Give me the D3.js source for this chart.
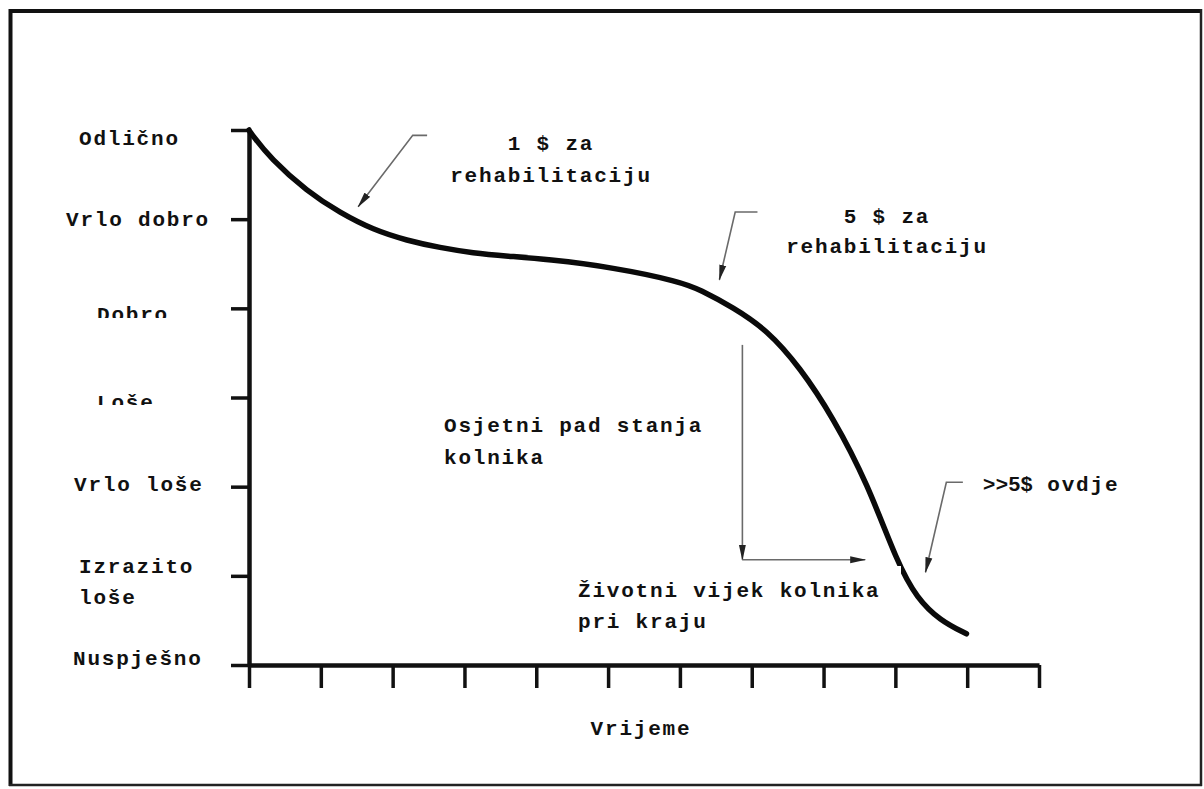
<!DOCTYPE html>
<html>
<head>
<meta charset="utf-8">
<script src="https://cdn.jsdelivr.net/npm/d3@7"></script>
<style>
  html, body { margin: 0; padding: 0; background: #fff; }
  svg { display: block; }
  text { font-family: "Liberation Mono", "DejaVu Sans Mono", monospace; font-weight: bold; font-size: 21px; letter-spacing: 1.8px; fill: #111; }
</style>
</head>
<body>
<svg id="chart" width="1204" height="789"></svg>
<script>
// ---- data ----
const conditionLabels = ["Nuspješno", "Izrazito\nloše", "Vrlo loše", "Loše", "Dobro", "Vrlo dobro", "Odlično"];
const conditionLevels = [0, 1, 2, 3, 4, 5, 6];
const timeTicks = [0, 1, 2, 3, 4, 5, 6, 7, 8, 9, 10, 11];
const curveTime = [0, 0.03, 0.30, 0.81, 1.27, 1.73, 2.20, 2.66, 3.12, 3.60, 4.15, 5.07, 6.00, 6.28, 6.74, 7.21, 7.67, 8.13, 8.61, 9.03, 9.30, 9.62, 9.99];
const curveCondition = [6.0, 5.96, 5.68, 5.31, 5.07, 4.88, 4.76, 4.68, 4.62, 4.585, 4.55, 4.46, 4.30, 4.21, 4.01, 3.76, 3.34, 2.78, 2.04, 1.14, 0.75, 0.50, 0.35];
const xAxisTitle = "Vrijeme";
// annotation arrows in data units (time, condition)
const arrow1 = [[2.48, 5.94], [2.28, 5.94], [1.52, 5.14]];
const arrow2 = [[7.08, 5.08], [6.77, 5.08], [6.55, 4.32]];
const arrow3 = [[9.94, 2.05], [9.71, 2.05], [9.42, 1.04]];
const dropArrow = [[6.87, 3.59], [6.87, 1.18]];
const lifeArrow = [[6.87, 1.18], [8.58, 1.18]];

// ---- layout ----
const svg = d3.select("#chart");
const x = d3.scaleLinear().domain([0, 11]).range([249, 1039]);
const y = d3.scaleLinear().domain([0, 6]).range([665, 130]);

// frame
svg.append("line").attr("x1", 10.5).attr("x2", 10.5).attr("y1", 9).attr("y2", 786).attr("stroke", "#111").attr("stroke-width", 4);
svg.append("line").attr("x1", 9).attr("x2", 1202).attr("y1", 11).attr("y2", 11).attr("stroke", "#111").attr("stroke-width", 4);
svg.append("line").attr("x1", 1201).attr("x2", 1201).attr("y1", 9).attr("y2", 786).attr("stroke", "#222").attr("stroke-width", 2.5);
svg.append("line").attr("x1", 9).attr("x2", 1202).attr("y1", 785).attr("y2", 785).attr("stroke", "#222").attr("stroke-width", 2.5);

// arrow marker
const defs = svg.append("defs");
defs.append("marker").attr("id", "ah").attr("viewBox", "0 -4 16 8")
  .attr("refX", 15).attr("refY", 0).attr("markerWidth", 16).attr("markerHeight", 8)
  .attr("markerUnits", "userSpaceOnUse").attr("orient", "auto")
  .append("path").attr("d", "M0,-3.5L16,0L0,3.5Z").attr("fill", "#222");

// axes
const yAxis = d3.axisLeft(y).tickValues(conditionLevels).tickSize(18).tickSizeOuter(0).tickFormat("");
const gy = svg.append("g").attr("transform", "translate(249,0)").call(yAxis);
const xAxis = d3.axisBottom(x).tickValues(timeTicks).tickSize(23).tickSizeOuter(0).tickFormat("");
const gx = svg.append("g").attr("transform", "translate(0,665)").call(xAxis);
[gx, gy].forEach(g => {
  g.select(".domain").attr("stroke", "#111").attr("stroke-width", 4.5);
  g.selectAll(".tick line").attr("stroke", "#111").attr("stroke-width", 3.5);
});

// condition curve
const line = d3.line().x(d => x(d[0])).y(d => y(d[1])).curve(d3.curveBasis);
svg.append("path").datum(curveTime.map((t, i) => [t, curveCondition[i]]))
  .attr("d", line).attr("fill", "none").attr("stroke", "#0a0a0a").attr("stroke-width", 5.5).attr("stroke-linecap", "round");

// annotation arrows
const straight = d3.line().x(d => x(d[0])).y(d => y(d[1]));
[arrow1, arrow2, arrow3, dropArrow, lifeArrow].forEach(a => {
  svg.append("path").attr("d", straight(a)).attr("fill", "none")
    .attr("stroke", "#6a6a6a").attr("stroke-width", 1.6).attr("marker-end", "url(#ah)");
});

// white label box that hides part of the curve
svg.append("rect").attr("x", 570).attr("y", 566).attr("width", 331).attr("height", 74).attr("fill", "#fff");

// y labels
const labelLayout = [
  { x: 73, base: 665 }, { x: 79, base: 573 }, { x: 74, base: 491 }, { x: 97, base: 409 },
  { x: 97, base: 321 }, { x: 66, base: 226 }, { x: 79, base: 145 }
];
conditionLabels.forEach((lab, i) => {
  const lines = lab.split("\n");
  const t = svg.append("text").attr("x", labelLayout[i].x).attr("y", labelLayout[i].base);
  lines.forEach((ln, k) => {
    t.append("tspan").attr("x", labelLayout[i].x).attr("dy", k === 0 ? 0 : 31).text(ln);
  });
});
// clipped label bottoms (as in the source)
svg.append("rect").attr("x", 60).attr("y", 318).attr("width", 160).attr("height", 12).attr("fill", "#fff");
svg.append("rect").attr("x", 60).attr("y", 405).attr("width", 160).attr("height", 10).attr("fill", "#fff");

// annotation texts
function addText(lines, xPos, base, anchor, lh) {
  const t = svg.append("text").attr("x", xPos).attr("y", base).attr("text-anchor", anchor);
  lines.forEach((ln, k) => t.append("tspan").attr("x", xPos).attr("dy", k === 0 ? 0 : lh).text(ln));
  return t;
}
addText(["1 $ za", "rehabilitaciju"], 551, 150, "middle", 32);
addText(["5 $ za", "rehabilitaciju"], 887, 223, "middle", 30);
addText(["Osjetni pad stanja", "kolnika"], 444, 432, "start", 32);
addText(["Životni vijek kolnika", "pri kraju"], 578, 597, "start", 31);
const t5 = svg.append("text").attr("x", 983).attr("y", 491);
t5.append("tspan").style("font-family", "'Liberation Sans', Arial, sans-serif").style("font-weight", "bold").style("font-size", "21px").style("letter-spacing", "0.5px").text(">>5$");
t5.append("tspan").text(" ovdje");
svg.append("text").attr("x", 641).attr("y", 735).attr("text-anchor", "middle").text(xAxisTitle);
</script>
</body>
</html>
